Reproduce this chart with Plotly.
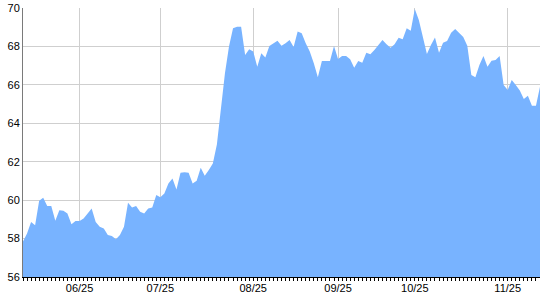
import plotly.graph_objects as go

values = [
    57.85, 58.27, 58.86, 58.69, 59.97, 60.13, 59.69, 59.69, 58.93, 59.48,
    59.45, 59.31, 58.74, 58.91, 58.91, 59.05, 59.31, 59.57, 58.86,
    58.62, 58.53, 58.18, 58.13, 57.96, 58.18, 58.62, 59.87, 59.62, 59.69,
    59.40, 59.31, 59.57, 59.62, 60.27, 60.15, 60.35, 60.87, 61.13, 60.56,
    61.43, 61.45, 61.43, 60.87, 61.01, 61.69, 61.27, 61.57, 61.91, 62.9,
    64.9, 66.6, 67.99, 68.94, 69.03, 69.03, 67.55, 67.85, 67.73, 66.94,
    67.64, 67.43, 68.02, 68.16, 68.30, 68.04, 68.16, 68.33, 67.97, 68.78,
    68.68, 68.16, 67.73, 67.12, 66.39, 67.24, 67.24, 67.24, 68.02, 67.35,
    67.50, 67.50, 67.33, 66.89, 67.24, 67.15, 67.67, 67.59, 67.81, 68.07,
    68.33, 68.11, 67.93, 68.11, 68.45, 68.37, 68.94, 68.82, 69.95, 69.38,
    68.51, 67.61, 68.07, 68.47, 67.67, 68.19, 68.28, 68.71, 68.91, 68.70,
    68.49, 68.03, 66.51, 66.39, 67.03, 67.50, 66.94, 67.26, 67.29, 67.50,
    65.99, 65.73, 66.25, 65.99, 65.70, 65.26, 65.43, 64.91, 64.91, 65.90,
]
points = list(range(len(values)))

# index of first data point of each month and its label
month_start_idx = [14, 34, 57, 78, 97, 120]
month_labels = ["06/25", "07/25", "08/25", "09/25", "10/25", "11/25"]

y_ticks = [56, 58, 60, 62, 64, 66, 68, 70]

fig = go.Figure()
fig.add_trace(go.Scatter(
    x=points, y=values, mode="lines", fill="tozeroy",
    line=dict(width=0, color="#78b3ff"), fillcolor="#78b3ff",
    hoverinfo="skip", showlegend=False,
))

font = dict(family="Liberation Sans, Arial, sans-serif", size=11, color="#000000")

fig.update_layout(
    width=540, height=300,
    margin=dict(l=23, r=0, t=8, b=23, pad=0),
    paper_bgcolor="white", plot_bgcolor="white",
    font=font,
    xaxis=dict(
        range=[0, len(values) - 1],
        tickmode="array", tickvals=month_start_idx, ticktext=month_labels,
        ticks="outside", ticklen=3, tickcolor="black", tickwidth=1,
        showgrid=True, gridcolor="#cfcfcf", gridwidth=1,
        showline=True, linecolor="black", linewidth=1,
        zeroline=False, fixedrange=True,
        minor=dict(tickmode="linear", tick0=0, dtick=1, ticks="outside",
                   ticklen=3, tickcolor="black", tickwidth=1, showgrid=False),
        tickfont=font, ticklabelstandoff=-2,
    ),
    yaxis=dict(
        range=[56, 70], tickmode="array", tickvals=y_ticks,
        ticks="", showgrid=True, gridcolor="#cfcfcf", gridwidth=1,
        showline=True, linecolor="#7a7a7a", linewidth=1,
        zeroline=False, fixedrange=True, tickfont=font,
        ticklabelstandoff=0,
    ),
)

fig.write_html("out.html")
